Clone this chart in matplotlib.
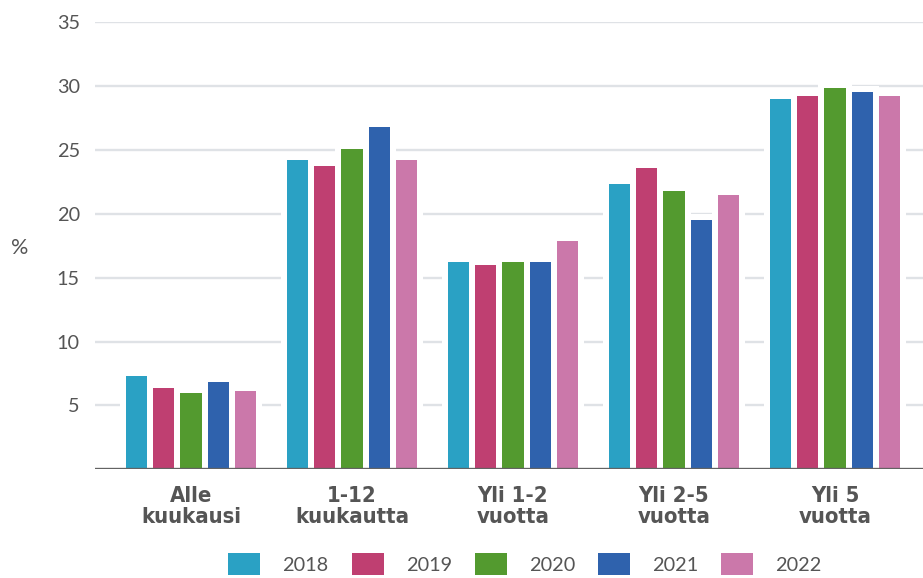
import matplotlib
matplotlib.use("Agg")
import matplotlib.pyplot as plt
from matplotlib import font_manager
from matplotlib.patches import Patch
import numpy as np
import os

categories = ["Alle\nkuukausi", "1-12\nkuukautta", "Yli 1-2\nvuotta", "Yli 2-5\nvuotta", "Yli 5\nvuotta"]
years = ["2018", "2019", "2020", "2021", "2022"]
values = {
    "2018": [7.3, 24.2, 16.2, 22.3, 29.0],
    "2019": [6.4, 23.7, 16.0, 23.6, 29.2],
    "2020": [6.0, 25.1, 16.2, 21.8, 29.8],
    "2021": [6.8, 26.8, 16.2, 19.5, 29.5],
    "2022": [6.1, 24.2, 17.9, 21.5, 29.2],
}
colors = ["#2aa1c4", "#bf3f71", "#539a2f", "#2f62ad", "#cb78aa"]
yticks = [5, 10, 15, 20, 25, 30, 35]

avail = {f.name for f in font_manager.fontManager.ttflist}
tick_font = "Lato" if "Lato" in avail else "DejaVu Sans"

# pick a condensed bold font for category labels
files = {os.path.basename(f.fname).lower(): f.fname for f in font_manager.fontManager.ttflist}
prefs = ["notosans-semicondensedbold.ttf", "notosans-condensedbold.ttf",
         "liberationsansnarrow-bold.ttf", "dejavusanscondensed-bold.ttf"]
cat_prop = None
cat_size = 15.8
for p in prefs:
    if p in files:
        cat_prop = font_manager.FontProperties(fname=files[p], size=cat_size)
        break
if cat_prop is None:
    cat_prop = font_manager.FontProperties(family="DejaVu Sans", weight="bold",
                                           stretch="condensed", size=cat_size)

W, H = 923, 578
fig = plt.figure(figsize=(W / 100, H / 100), dpi=100)
ax_left, ax_right = 95, 923
y_top, y_zero = 22, 469.4
ax = fig.add_axes([ax_left / W, (H - y_zero) / H, (ax_right - ax_left) / W, (y_zero - y_top) / H])

px_per_unit_x = 161.0
x0 = -96 / px_per_unit_x
x1 = x0 + (ax_right - ax_left) / px_per_unit_x
ax.set_xlim(x0, x1)
ax.set_ylim(0, 35)

step = 27.3 / px_per_unit_x
bw = 21.5 / px_per_unit_x
pad_x = 12 / px_per_unit_x
pad_y = 6 / ((y_zero - y_top) / 35)

xc = np.arange(len(categories))
for i, yr in enumerate(years):
    xs = xc + (i - 2) * step
    vals = np.array(values[yr])
    ax.bar(xs, vals + pad_y, width=bw + pad_x, color="white", zorder=2, linewidth=0)
for i, yr in enumerate(years):
    xs = xc + (i - 2) * step
    ax.bar(xs, values[yr], width=bw, color=colors[i], zorder=3, linewidth=0, label=yr)

for y in yticks:
    ax.axhline(y, color="#dfe2e6", lw=1.7, zorder=1)
ax.axhline(0, color="#636363", lw=2.4, zorder=4)

for s in ax.spines.values():
    s.set_visible(False)

ax.set_yticks(yticks)
ax.set_yticklabels([str(t) for t in yticks], fontsize=14.3, color="#555555", family=tick_font)
ax.tick_params(axis="y", length=0, pad=11)
ax.set_xticks(xc)
ax.set_xticklabels(categories, fontproperties=cat_prop, color="#555555", linespacing=1.08)
ax.tick_params(axis="x", length=0, pad=12)

fig.text(20 / W, (H - 248) / H, "%", fontsize=15.5, color="#555555", family=tick_font,
         ha="center", va="center")

handles = [Patch(facecolor=c, edgecolor="none") for c in colors]
fs = 14.3
emp = fs * 100 / 72
leg = fig.legend(handles, years, loc="center", bbox_to_anchor=(525 / W, (H - 564) / H),
                 ncol=5, frameon=False, handlelength=32 / emp, handleheight=27 / emp,
                 handletextpad=22 / emp, columnspacing=23 / emp, borderpad=0, borderaxespad=0,
                 prop={"family": tick_font, "size": fs})
for t in leg.get_texts():
    t.set_color("#555555")

fig.savefig("out.png", dpi=100)
